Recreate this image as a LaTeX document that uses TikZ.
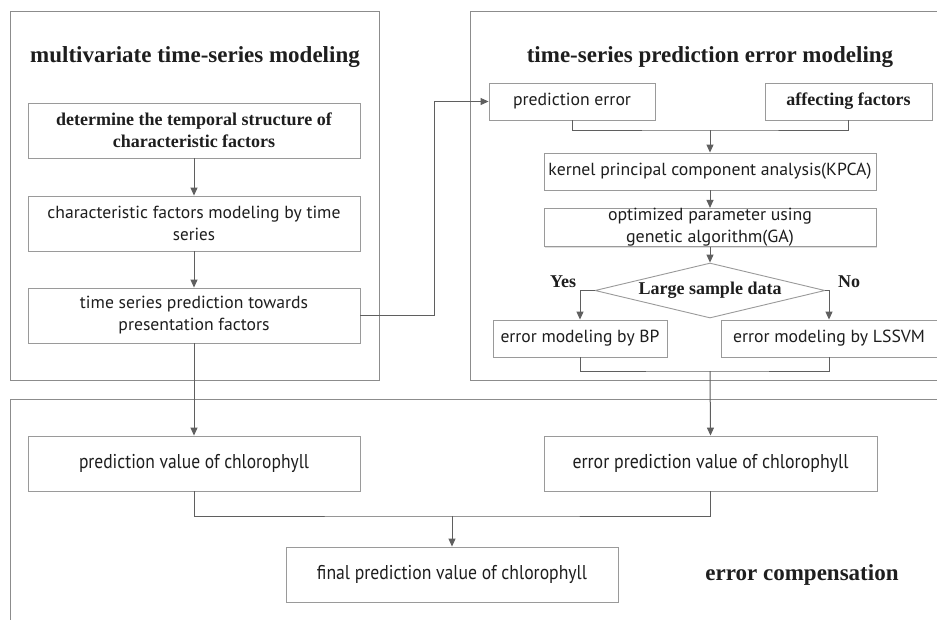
\documentclass[tikz,border=0pt]{standalone}
\usepackage{fontspec}
\usepackage{graphicx}
\setmainfont{Liberation Serif}
\newfontfamily\boxfont{PT Sans}
\usetikzlibrary{arrows.meta,shapes.geometric,shadows}
\definecolor{panelgray}{HTML}{8C8C8C}
\definecolor{boxgray}{HTML}{9A9A9A}
\definecolor{linegray}{HTML}{5F5F5F}
\definecolor{textgray}{HTML}{1E1E1E}
\newcommand{\fitw}[2]{\resizebox{#1pt}{\height}{#2}}
\begin{document}
\begin{tikzpicture}[x=1pt,y=-1pt,
  panel/.style={draw=panelgray, line width=1pt},
  box/.style={draw=boxgray, line width=0.9pt, fill=white, inner sep=0pt, align=center, text=textgray,
    drop shadow={shadow xshift=1.2pt, shadow yshift=-1.2pt, opacity=0.25, fill=gray}},
  sanst/.style={font=\boxfont\fontsize{17.5}{22}\selectfont},
  sansb/.style={font=\boxfont\fontsize{20}{22}\selectfont},
  boldt/.style={font=\bfseries\fontsize{18}{22}\selectfont},
  titlet/.style={font=\bfseries\fontsize{23}{27}\selectfont, inner sep=0pt, text=textgray},
  conn/.style={draw=linegray, line width=1pt},
  arr/.style={conn, -{Triangle[length=8pt,width=7pt]}},
]
\useasboundingbox (0,0) rectangle (937,619);
\clip (0,0) rectangle (937,619);
\fill[white] (0,0) rectangle (937,619);

% panels
\draw[panel] (10,11) rectangle (379,380);
\draw[panel] (470,11) rectangle (950,380);
\draw[panel] (10,630) -- (10,399) -- (950,399);

% titles
\node[titlet] (t1) at (195,57) {multivariate time-series modeling};
\node[titlet] (t2) at (710,57) {time-series prediction error modeling};
\node[titlet] (t3) at (802,575) {error compensation};

% left column
\node[box, boldt, minimum width=332pt, minimum height=55pt] (b1) at (194,130.5)
  {determine the temporal structure of\\characteristic factors};
\node[box, sanst, minimum width=332pt, minimum height=55pt] (b2) at (194,223.5)
  {\fitw{293}{characteristic factors modeling by time}\\\fitw{42}{series}};
\node[box, sanst, minimum width=332pt, minimum height=55pt] (b3) at (194,315.5)
  {\fitw{228}{time series prediction towards}\\\fitw{151}{presentation factors}};

% right column
\node[box, sanst, minimum width=166pt, minimum height=37pt] (pe) at (572,101.5) {\fitw{118}{prediction error}};
\node[box, boldt, minimum width=167pt, minimum height=37pt] (af) at (848.5,101.5) {affecting factors};
\node[box, sanst, minimum width=332pt, minimum height=37pt] (kp) at (710,171.5)
  {\fitw{323}{kernel principal component analysis(KPCA)}};
\node[box, sanst, minimum width=332pt, minimum height=37pt] (ga) at (710,227.5)
  {\fitw{204}{optimized parameter using}\\\fitw{168}{genetic algorithm(GA)}};
\node[draw=boxgray, line width=0.9pt, fill=white, diamond, aspect=4.18, inner sep=0pt,
  minimum width=230pt, minimum height=55pt, boldt, text=textgray] (dm) at (710,290.5) {Large sample data};
\node[box, sanst, minimum width=174pt, minimum height=37pt] (bp) at (580,338.5) {\fitw{159}{error modeling by BP}};
\node[box, sanst, minimum width=216pt, minimum height=37pt] (ls) at (829,338.5) {\fitw{192}{error modeling by LSSVM}};
\node[boldt, text=textgray, inner sep=0pt] (yes) at (563,282) {Yes};
\node[boldt, text=textgray, inner sep=0pt] (no) at (849,282) {No};

% bottom
\node[box, sansb, minimum width=332pt, minimum height=55pt] (pv) at (194,463.5)
  {\fitw{230}{prediction value of chlorophyll}};
\node[box, sansb, minimum width=333pt, minimum height=55pt] (ev) at (710.5,463.5)
  {\fitw{276}{error prediction value of chlorophyll}};
\node[box, sansb, minimum width=332pt, minimum height=55pt] (fv) at (452,574.5)
  {\fitw{270}{final prediction value of chlorophyll}};

% helper coordinates
\coordinate (c1) at (434,315.5);
\coordinate (c2) at (434,101.5);
\coordinate (m1) at (710,130);
\coordinate (m2) at (710,371);
\coordinate (m3) at (452,516);

% connectors
\draw[arr] (b1) -- (b2);
\draw[arr] (b2) -- (b3);
\draw[conn] (b3.east) -- (c1) -- (c2);
\draw[arr] (c2) -- (pe.west);
\draw[conn] (pe.south) |- (m1) -| (af.south);
\draw[arr] (m1) -- (kp.north);
\draw[arr] (kp) -- (ga);
\draw[arr] (ga) -- (dm.north);
\draw[arr] (dm.west) -| (bp.north);
\draw[arr] (dm.east) -| (ls.north);
\draw[conn] (bp.south) |- (m2) -| (ls.south);
\draw[arr] (m2) -- (ev.north);
\draw[arr] (b3.south) -- (pv.north);
\draw[conn] (pv.south) |- (m3) -| (ev.south);
\draw[arr] (m3) -- (fv.north);
\end{tikzpicture}
\end{document}
